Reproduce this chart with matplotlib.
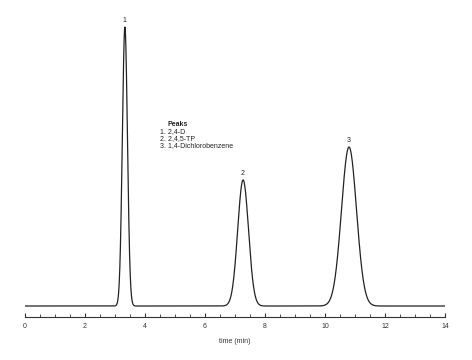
import numpy as np
import matplotlib
matplotlib.use("Agg")
import matplotlib.pyplot as plt
from matplotlib.ticker import MultipleLocator

plt.rcParams['font.family'] = ['Liberation Sans', 'DejaVu Sans']

# Peak table
peak_labels = ["1", "2", "3"]
peak_names = ["2,4-D", "2,4,5-TP", "1,4-Dichlorobenzene"]
retention_times = [3.33, 7.27, 10.80]
peak_heights = [100.0, 45.2, 57.0]
peak_sigmas = [0.085, 0.18, 0.25]
x_ticks = [0, 2, 4, 6, 8, 10, 12, 14]

t = np.linspace(0, 14, 3000)
signal = np.zeros_like(t)
for rt, h, s in zip(retention_times, peak_heights, peak_sigmas):
    signal += h * np.exp(-0.5 * ((t - rt) / s) ** 2)

fig = plt.figure(figsize=(4.72, 3.6), dpi=100)
ax = fig.add_axes([25/472, 43/360, 420/472, (317-10)/360])
ax.plot(t, signal, color='#222222', lw=0.9)
ax.set_xlim(0, 14)
ax.set_ylim(-3.94, 106.1)

for sp in ['left', 'right', 'top']:
    ax.spines[sp].set_visible(False)
ax.spines['bottom'].set_color('#333333')
ax.spines['bottom'].set_linewidth(0.8)
ax.set_yticks([])
ax.set_xticks(x_ticks)
ax.xaxis.set_minor_locator(MultipleLocator(0.5))
ax.tick_params(axis='x', which='major', direction='in', length=3, width=0.8,
               labelsize=5, colors='#333333', pad=4)
ax.tick_params(axis='x', which='minor', direction='in', length=2, width=0.6,
               colors='#333333')
ax.set_xlabel('time (min)', fontsize=5, color='#333333', labelpad=6)

for lab, rt, h in zip(peak_labels, retention_times, peak_heights):
    ax.annotate(lab, (rt, h), xytext=(0, 2), textcoords='offset points',
                ha='center', va='bottom', fontsize=5, color='#222222')

# legend-like text block
fig.text(168/472, 1 - 125/360, 'Peaks', fontsize=5, fontweight='bold',
         color='#222222', va='center', ha='left')
for i, (lab, name) in enumerate(zip(peak_labels, peak_names)):
    fig.text(160/472, 1 - (132 + 6.7*i)/360, f"{lab}. {name}", fontsize=5,
             color='#222222', va='center', ha='left')

fig.savefig('out.png', dpi=100)
